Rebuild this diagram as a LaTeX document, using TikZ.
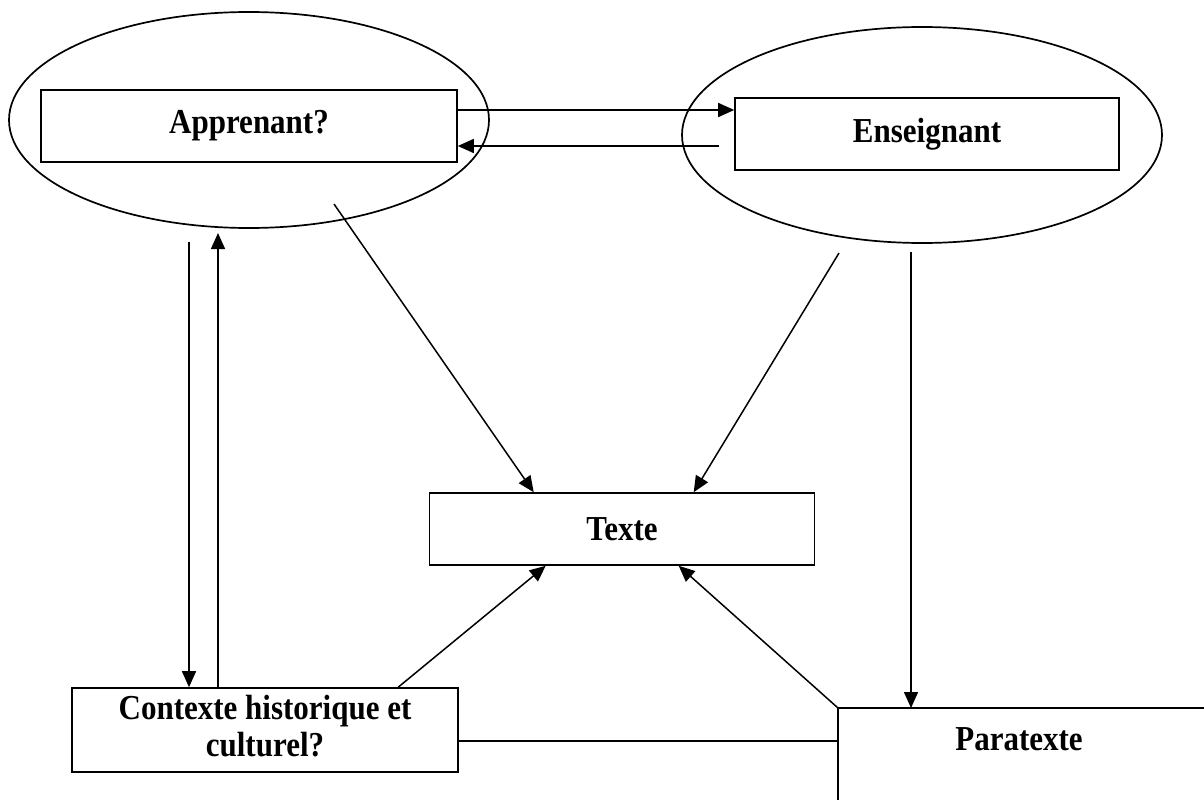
\documentclass[tikz,border=0pt]{standalone}
\usepackage{fontspec}
\setmainfont{Liberation Serif}
\usetikzlibrary{arrows.meta,shapes.geometric,calc}
% labels are set slightly taller than the plain font
\newcommand\tallbox[1]{\scalebox{1}[1.13]{#1}}
\begin{document}
\begin{tikzpicture}[x=1pt,y=-1pt,
  every node/.style={font=\fontsize{31}{36}\selectfont\bfseries},
  box/.style={draw,line width=1.6pt,rectangle,inner sep=0pt},
  oval/.style={draw,line width=1.7pt,ellipse,inner sep=0pt,
               minimum width=480pt,minimum height=216pt},
  arr/.style={line width=1.5pt,-{Triangle[length=16pt,width=14pt]}},
  link/.style={line width=1.5pt}]
\useasboundingbox (0,0) rectangle (1204,800);

% the two actors, each boxed inside an oval
\node[oval] (ovA) at (249,120) {};
\node[oval] (ovE) at (922,135) {};
\node[box,minimum width=416pt,minimum height=72pt] (appr) at (249,126) {\tallbox{Apprenant?}};
\node[box,minimum width=384pt,minimum height=72pt] (ens) at (927,134) {\tallbox{Enseignant}};

% the text at the centre and the context below
\node[box,minimum width=385pt,minimum height=72pt] (texte) at (622,529) {\tallbox{Texte}};
\node[box,minimum width=386pt,minimum height=84pt] (ctx) at (265,730)
  {\tallbox{\begin{tabular}{@{}c@{}}Contexte historique et\\[-3pt]culturel?\end{tabular}}};

% paratext frame, open towards the page edges
\coordinate (pc) at (838,708);
\coordinate (pr) at (1204,708);
\coordinate (pb) at (838,800);
\draw[link] (pr) -- (pc) -- (pb);
\node (para) at (1019,739) {\tallbox{Paratexte}};

% exchange between learner and teacher
\coordinate (ya) at (0,110);
\draw[arr] (appr.east |- ya) -- (ens.west |- ya);
\coordinate (backstart) at (719,146);
\draw[arr] (backstart) -- (appr.east |- backstart);

% actors towards the text
\coordinate (fromA) at (334,204);
\draw[arr] (fromA) -- ($(texte.north west)+(105,0)$);
\coordinate (fromE) at (839,253);
\draw[arr] (fromE) -- ($(texte.north west)+(265,0)$);

% learner and context
\coordinate (downA) at (189,242);
\draw[arr] (downA) -- (downA |- ctx.north);
\coordinate (upA) at (218,233);
\draw[arr] (upA |- ctx.north) -- (upA);

% context and paratext towards the text
\draw[arr] ($(ctx.north west)+(327,0)$) -- ($(texte.south west)+(117,0)$);
\draw[arr] (pc) -- ($(texte.south west)+(250,0)$);

% teacher towards the paratext
\coordinate (downE) at (911,252);
\draw[arr] (downE) -- (downE |- pc);

% context linked to the paratext
\coordinate (yl) at (0,741);
\draw[link] (ctx.east |- yl) -- (pc |- yl);
\end{tikzpicture}
\end{document}
